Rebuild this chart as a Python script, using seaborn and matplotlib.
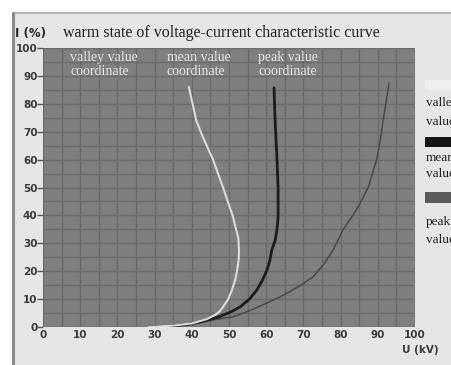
import matplotlib
matplotlib.use("Agg")
import matplotlib.pyplot as plt
import seaborn as sns
from matplotlib.patches import Rectangle
from matplotlib.lines import Line2D

# valores (U en kV, I en %)
valley_u = [28.5, 35, 40, 44, 46.2, 47.5, 48.4, 49.8, 50.8, 51.7, 52.2, 52.6, 52.7, 52.5,
            51.8, 51.1, 49.8, 48.4, 45.7, 43, 41.2, 39.2]
valley_i = [0, 0.5, 1.3, 2.8, 4.3, 5.6, 7.2, 10, 13.3, 17, 20.4, 24, 27.6, 32,
            35.5, 39.4, 44.5, 50, 60, 68, 74, 86]

mean_u = [28.8, 34, 38.7, 43, 47.6, 50.5, 53, 55.5, 57.5, 59, 60.2, 61, 61.5, 62.4,
          62.9, 63.2, 63.2, 62.9, 62.4, 62.1]
mean_i = [0, 0.3, 0.9, 2, 3.8, 5.4, 7.2, 10, 13.3, 16.8, 20.4, 24, 27.6, 31,
          35, 39.4, 50, 60, 74, 85.7]

peak_u = [28.8, 35, 42.2, 46, 51, 55.5, 60.2, 64, 67.2, 70, 72.6, 75.5, 78, 80.6, 82.8,
          84.7, 87.4, 89.7, 90.7, 91.4, 92.3, 93]
peak_i = [0, 0.5, 1.8, 2.6, 3.6, 5.8, 8.6, 11, 13.3, 15.6, 18, 22.5, 27.6, 34.8, 39,
          43, 50, 60, 67, 74, 81, 87.5]

x_ticks = list(range(0, 101, 10))
y_ticks = list(range(0, 101, 10))

sns.set_style("white")
W, H = 452, 365
fig = plt.figure(figsize=(W / 100, H / 100), dpi=100, facecolor="white")

# panel de fondo gris claro
fig.patches.append(Rectangle((13 / W, 0), 1, 1 - 13 / H, transform=fig.transFigure,
                             facecolor="#e6e6e6", edgecolor="none", zorder=-5))
fig.lines.append(Line2D([13 / W, 1], [1 - 13 / H, 1 - 13 / H], transform=fig.transFigure,
                        color="#b4b4b4", lw=1.5, zorder=-4))
fig.lines.append(Line2D([13 / W, 13 / W], [0, 1 - 13 / H], transform=fig.transFigure,
                        color="#8c8c8c", lw=2.2, zorder=-4))

ax = fig.add_axes([43 / W, 1 - 327 / H, (415 - 43) / W, (327 - 48) / H])
ax.set_facecolor("#7f7f7f")

sns.lineplot(x=peak_u, y=peak_i, sort=False, estimator=None, color="#484848", lw=1.1, ax=ax)
sns.lineplot(x=mean_u, y=mean_i, sort=False, estimator=None, color="#1c1c1c", lw=2.0, ax=ax)
sns.lineplot(x=valley_u, y=valley_i, sort=False, estimator=None, color="#dcdcdc", lw=1.5, ax=ax)

ax.set_xlim(0, 100)
ax.set_ylim(0, 100)
ax.set_xticks(x_ticks)
ax.set_yticks(y_ticks)
ax.set_xticks(range(0, 101, 5), minor=True)
ax.set_yticks(range(0, 101, 5), minor=True)
ax.grid(True, which="both", color="#6a6a6a", lw=1.0)
ax.set_axisbelow(True)
for s in ax.spines.values():
    s.set_visible(False)

tick_font = dict(family="DejaVu Sans", weight="bold", size=7.5)
ax.set_xticklabels([str(v) for v in x_ticks], color="#3a3a3a", **tick_font)
ax.set_yticklabels([str(v) for v in y_ticks], color="#3a3a3a", **tick_font)
ax.tick_params(axis="x", which="both", length=0, pad=2)
ax.tick_params(axis="y", which="major", length=4, width=1, color="#555555", pad=0, left=True)
ax.tick_params(axis="y", which="minor", length=0)

serif = "Liberation Serif"
for xv, txt in [(7.3, "valley value\ncoordinate"), (33.3, "mean value\ncoordinate"),
                (57.8, "peak value\ncoordinate")]:
    ax.text(xv, 99, txt, ha="left", va="top", family=serif, size=10,
            color="#e6e6e6", linespacing=1.1)

fig.text(15 / W, 1 - 33 / H, "I (%)", ha="left", va="center",
         family="DejaVu Sans", weight="bold", size=8.5, color="#2a2a2a")
fig.text(63 / W, 1 - 33 / H, "warm state of voltage-current characteristic curve",
         ha="left", va="center", family=serif, size=11.5, color="#202020")
fig.text(402 / W, 1 - 350 / H, "U (kV)", ha="left", va="center",
         family="DejaVu Sans", weight="bold", size=7.5, color="#3a3a3a")

# leyenda recortada a la derecha
fig.patches.append(Rectangle((425 / W, 1 - 90 / H), 1, 10 / H, transform=fig.transFigure,
                             facecolor="#efefef", edgecolor="none"))
fig.patches.append(Rectangle((425 / W, 1 - 147 / H), 1, 10 / H, transform=fig.transFigure,
                             facecolor="#151515", edgecolor="none"))
fig.patches.append(Rectangle((425 / W, 1 - 203 / H), 1, 11 / H, transform=fig.transFigure,
                             facecolor="#5a5a5a", edgecolor="none"))
for yv, txt in [(103, "valley"), (122, "value"), (158, "mean"), (174, "value"),
                (222, "peak"), (240, "value")]:
    fig.text(426 / W, 1 - yv / H, txt, ha="left", va="center", family=serif,
             size=9.5, color="#202020")

fig.savefig("out.png", dpi=100, facecolor=fig.get_facecolor())
